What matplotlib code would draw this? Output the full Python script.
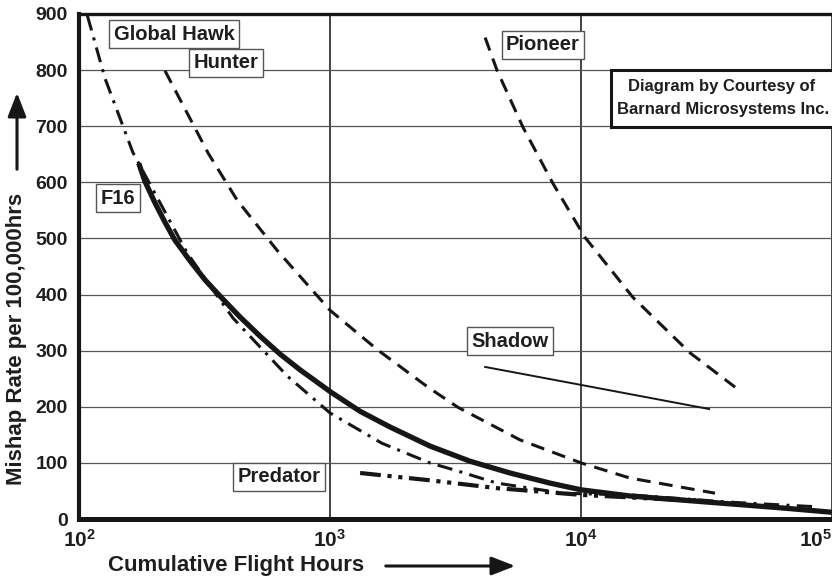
import matplotlib
matplotlib.use("Agg")
import matplotlib.pyplot as plt
from matplotlib.patches import Rectangle, FancyArrowPatch

plt.rcParams['font.family'] = ['Liberation Sans', 'DejaVu Sans']
plt.rcParams['font.weight'] = 'bold'
plt.rcParams['mathtext.fontset'] = 'custom'
plt.rcParams['mathtext.rm'] = 'Liberation Sans:bold'
plt.rcParams['mathtext.it'] = 'Liberation Sans:bold'
plt.rcParams['mathtext.bf'] = 'Liberation Sans:bold'
plt.rcParams['mathtext.default'] = 'rm'

# curves (flight hours, mishaps per 100,000 hrs)
f16_x = [173, 183, 201, 220, 241, 277, 318, 365, 438, 526, 632, 759, 1009, 1317, 1734,
         2502, 3611, 5213, 7520, 10000, 15680, 24800, 39200, 62060, 100000]
f16_y = [634, 602, 563, 529, 497, 460, 426, 397, 360, 326, 294, 266, 226, 192, 164,
         130, 103, 82, 64, 52, 41, 34, 27, 20, 12]

hawk_x = [108, 127, 164, 269, 342, 411, 675, 1000, 1610, 2500, 3150, 4620, 8470, 10000,
          15680, 39200, 85000]
hawk_y = [897, 785, 653, 475, 408, 358, 255, 189, 135, 100, 87, 64, 46, 45, 43, 30, 22]

hunter_x = [220, 327, 427, 615, 1000, 1552, 2455, 3236, 5715, 10000, 15660, 34200]
hunter_y = [799, 652, 568, 479, 372, 301, 235, 199, 141, 100, 73, 46]

pioneer_x = [4150, 4625, 5875, 7730, 10370, 16100, 27200, 41100]
pioneer_y = [858, 800, 698, 598, 502, 395, 296, 235]

shadow_x = [4150, 10000, 32400]
shadow_y = [271, 239, 196]

predator_x = [1318, 2500, 4620, 10000, 20000, 30000]
predator_y = [82, 69, 55, 43, 36, 33]

labels = ['Global Hawk', 'Hunter', 'F16', 'Pioneer', 'Shadow', 'Predator']
label_x = [239, 385, 143, 7058, 5212, 627]
label_y = [864, 813, 572, 845, 317, 75]

xticks = [100, 1000, 10000, 100000]
xtick_labels = ['$10^{2}$', '$10^{3}$', '$10^{4}$', '$10^{5}$']
yticks = list(range(0, 1000, 100))

fig = plt.figure(figsize=(8.32, 5.79), dpi=100)
ax = fig.add_axes([79 / 832, 60 / 579, 753 / 832, 505 / 579])

ink = '#161616'
ax.plot(predator_x, predator_y, color=ink, lw=3.0, dashes=(5, 1.6, 1, 1.6, 1, 1.6), zorder=3)
ax.plot(hawk_x, hawk_y, color=ink, lw=2.2, dashes=(5, 2.4, 1, 2.4), zorder=3)
ax.plot(hunter_x, hunter_y, color=ink, lw=2.2, dashes=(4.5, 2.8), zorder=3)
ax.plot(pioneer_x, pioneer_y, color=ink, lw=2.2, dashes=(4.5, 2.8), zorder=3)
ax.plot(shadow_x, shadow_y, color=ink, lw=1.4, zorder=3)
ax.plot(f16_x, f16_y, color=ink, lw=3.8, solid_capstyle='butt', solid_joinstyle='round', zorder=4)

for name, lx, ly in zip(labels, label_x, label_y):
    ax.text(lx, ly, name, fontsize=14.5, fontweight='bold', color='#1e1e1e',
            ha='center', va='center', zorder=6,
            bbox=dict(boxstyle='square,pad=0.22', fc='white', ec='#555555', lw=1))

ax.set_xscale('log')
ax.set_xlim(100, 100000)
ax.set_ylim(0, 900)
ax.set_xticks(xticks)
ax.set_xticklabels(xtick_labels)
ax.xaxis.set_minor_locator(matplotlib.ticker.NullLocator())
ax.set_yticks(yticks)
ax.tick_params(axis='both', length=0, labelsize=14, colors='#1e1e1e')
ax.tick_params(axis='x', pad=7, labelsize=15)
ax.tick_params(axis='y', pad=8)
ax.get_xticklabels()[-1].set_ha('right')

ax.yaxis.grid(True, color='#555555', lw=0.9)
ax.xaxis.grid(True, color='#111111', lw=1.1)
ax.set_axisbelow(True)

ax.spines['right'].set_visible(False)
ax.spines['left'].set_linewidth(3)
ax.spines['top'].set_linewidth(2.4)
ax.spines['bottom'].set_linewidth(3.6)
for s in ['left', 'top', 'bottom']:
    ax.spines[s].set_color(ink)

# courtesy box
fig.patches.append(Rectangle((611 / 832, 1 - 127 / 579), 0.3, 57 / 579,
                             transform=fig.transFigure, fc='white', ec=ink, lw=2.2, zorder=5))
fig.text(722 / 832, 1 - 86 / 579, 'Diagram by Courtesy of', fontsize=12, fontweight='bold',
         color='#1e1e1e', ha='center', va='center', zorder=6)
fig.text(723 / 832, 1 - 110 / 579, 'Barnard Microsystems Inc.', fontsize=12, fontweight='bold',
         color='#1e1e1e', ha='center', va='center', zorder=6)

# axis titles with arrows
fig.text(236 / 832, 1 - 566 / 579, 'Cumulative Flight Hours', fontsize=16, fontweight='bold',
         color='#1e1e1e', ha='center', va='center')
fig.text(17 / 832, 1 - 339 / 579, 'Mishap Rate per 100,000hrs', fontsize=16, fontweight='bold',
         color='#1e1e1e', ha='center', va='center', rotation=90)
fig.add_artist(FancyArrowPatch(
    (383 / 832, 1 - 566 / 579), (518 / 832, 1 - 566 / 579), transform=fig.transFigure,
    arrowstyle='-|>,head_length=0.9,head_width=0.35', mutation_scale=16, lw=2.2, color=ink))
fig.add_artist(FancyArrowPatch(
    (17 / 832, 1 - 172 / 579), (17 / 832, 1 - 90 / 579), transform=fig.transFigure,
    arrowstyle='-|>,head_length=0.9,head_width=0.35', mutation_scale=16, lw=2.2, color=ink))

fig.savefig('out.png', dpi=100)
